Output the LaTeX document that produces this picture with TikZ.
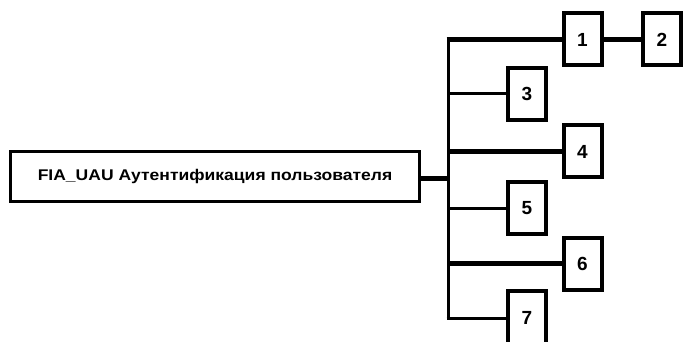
\documentclass[tikz,border=0pt]{standalone}
\usepackage{fontspec}
\setmainfont{Liberation Sans}
\begin{document}
\begin{tikzpicture}[x=1pt,y=-1pt,
  numbox/.style={draw,line width=4pt,minimum width=38pt,minimum height=52pt,inner sep=0pt,font=\bfseries\fontsize{19}{19}\selectfont},
  thickln/.style={line width=5pt},
  thinln/.style={line width=3pt}]
\useasboundingbox (0,0) rectangle (683,342);
\node[draw,line width=3.5pt,minimum width=409pt,minimum height=50pt,inner sep=0pt,font=\bfseries\fontsize{15.5}{15.5}\selectfont] (main) at (215,176.5) {\scalebox{1.13}[1]{FIA\_UAU Аутентификация пользователя}};
\node[numbox] (n1) at (582.5,39.5) {1};
\node[numbox] (n2) at (662,39.5) {2};
\node[numbox] (n3) at (527,94) {3};
\node[numbox] (n4) at (582.5,151.5) {4};
\node[numbox] (n5) at (527,208) {5};
\node[numbox] (n6) at (582.5,263.5) {6};
\node[numbox,minimum height=54pt] (n7) at (527,318) {7};
\coordinate (top) at (448,39.5);
\coordinate (bot) at (448,318);
\coordinate (mj) at (448,179);
\draw[thinln] (top) -- (bot);
\draw[thickln] (main.east |- mj) -- ([xshift=1.5pt]mj);
\draw[thickln] ([xshift=-1.5pt]top) -- (n1.west);
\draw[thickln] (n1.east) -- (n2.west);
\draw[thinln] (448,94) -- (n3.west);
\draw[thickln] (448,151.5) -- (n4.west);
\draw[thinln] (448,208) -- (n5.west);
\draw[thickln] (448,263.5) -- (n6.west);
\draw[thinln] ([xshift=-1.5pt]bot) -- (n7.west);
\end{tikzpicture}
\end{document}
